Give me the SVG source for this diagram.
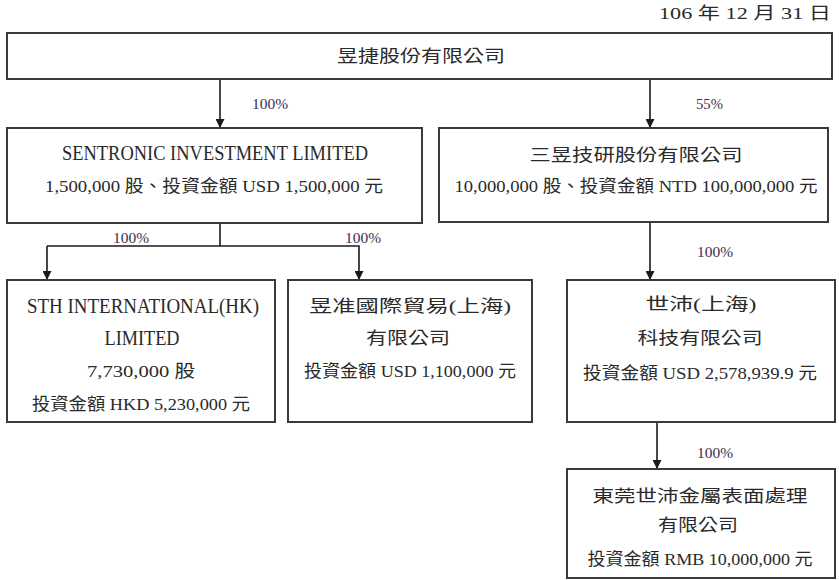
<svg xmlns="http://www.w3.org/2000/svg" width="839" height="580" viewBox="0 0 839 580">
<defs>
<style>
.box{fill:#fff;stroke:#3a3a3a;stroke-width:2}
.t{font-family:'Liberation Serif','Noto Sans CJK TC',serif;fill:#2a2a2a;text-anchor:middle;dominant-baseline:central}
.c{font-size:17px}
.e{font-size:20px}
.p{font-family:'Liberation Serif',serif;font-size:15px;fill:#3a3050;dominant-baseline:central}
.ln{fill:none;stroke:#1a1a1a;stroke-width:1.6}
</style>
<marker id="ah" viewBox="0 0 10 10" refX="10" refY="5" markerWidth="12" markerHeight="9" markerUnits="userSpaceOnUse" orient="auto">
<path d="M0,0 L10,5 L0,10 z" fill="#1a1a1a"/>
</marker>
</defs>
<rect width="839" height="580" fill="#fff"/>
<text class="t c" x="745" y="13" textLength="172" lengthAdjust="spacingAndGlyphs">106 年 12 月 31 日</text>

<g id="connectors">
<line class="ln" x1="220" y1="79" x2="220" y2="128" marker-end="url(#ah)"/>
<line class="ln" x1="650" y1="79" x2="650" y2="128" marker-end="url(#ah)"/>
<line class="ln" x1="220" y1="223" x2="220" y2="246"/>
<polyline class="ln" points="47,246 359,246 359,280" marker-end="url(#ah)"/>
<line class="ln" x1="47" y1="246" x2="47" y2="280" marker-end="url(#ah)"/>
<line class="ln" x1="650" y1="222" x2="650" y2="280" marker-end="url(#ah)"/>
<line class="ln" x1="657" y1="422" x2="657" y2="469" marker-end="url(#ah)"/>
<text class="p" x="252" y="104" textLength="36" lengthAdjust="spacingAndGlyphs">100%</text>
<text class="p" x="696" y="104" textLength="27" lengthAdjust="spacingAndGlyphs">55%</text>
<text class="p" x="113" y="238" textLength="36" lengthAdjust="spacingAndGlyphs">100%</text>
<text class="p" x="345" y="238" textLength="36" lengthAdjust="spacingAndGlyphs">100%</text>
<text class="p" x="697" y="252" textLength="36" lengthAdjust="spacingAndGlyphs">100%</text>
<text class="p" x="697" y="453" textLength="36" lengthAdjust="spacingAndGlyphs">100%</text>
</g>

<g id="n-top">
<rect class="box" x="7" y="33" width="825" height="46"/>
<text class="t c" x="421" y="56" textLength="168" lengthAdjust="spacingAndGlyphs">昱捷股份有限公司</text>
</g>

<g id="n-sentronic">
<rect class="box" x="7" y="128" width="415" height="95"/>
<text class="t e" x="215" y="153" textLength="306" lengthAdjust="spacingAndGlyphs">SENTRONIC INVESTMENT LIMITED</text>
<text class="t c" x="214" y="186" textLength="338" lengthAdjust="spacingAndGlyphs">1,500,000 股、投資金額 USD 1,500,000 元</text>
</g>

<g id="n-sanyu">
<rect class="box" x="439" y="128" width="389" height="94"/>
<text class="t c" x="636" y="155" textLength="213" lengthAdjust="spacingAndGlyphs">三昱技研股份有限公司</text>
<text class="t c" x="636" y="186" textLength="363" lengthAdjust="spacingAndGlyphs">10,000,000 股、投資金額 NTD 100,000,000 元</text>
</g>

<g id="n-sth">
<rect class="box" x="7" y="280" width="268" height="142"/>
<text class="t e" x="143" y="306" textLength="232" lengthAdjust="spacingAndGlyphs">STH INTERNATIONAL(HK)</text>
<text class="t e" x="142" y="338" textLength="75" lengthAdjust="spacingAndGlyphs">LIMITED</text>
<text class="t c" x="141" y="371" textLength="108" lengthAdjust="spacingAndGlyphs">7,730,000 股</text>
<text class="t c" x="141" y="404" textLength="218" lengthAdjust="spacingAndGlyphs">投資金額 HKD 5,230,000 元</text>
</g>

<g id="n-yuzhun">
<rect class="box" x="288" y="280" width="244" height="142"/>
<text class="t c" x="410" y="306" textLength="202" lengthAdjust="spacingAndGlyphs">昱准國際貿易(上海)</text>
<text class="t c" x="408" y="338" textLength="84" lengthAdjust="spacingAndGlyphs">有限公司</text>
<text class="t c" x="410" y="371" textLength="212" lengthAdjust="spacingAndGlyphs">投資金額 USD 1,100,000 元</text>
</g>

<g id="n-shipei">
<rect class="box" x="567" y="280" width="268" height="142"/>
<text class="t c" x="701" y="304" textLength="111" lengthAdjust="spacingAndGlyphs">世沛(上海)</text>
<text class="t c" x="700" y="338" textLength="125" lengthAdjust="spacingAndGlyphs">科技有限公司</text>
<text class="t c" x="700" y="373" textLength="234" lengthAdjust="spacingAndGlyphs">投資金額 USD 2,578,939.9 元</text>
</g>

<g id="n-dongguan">
<rect class="box" x="567" y="469" width="268" height="109"/>
<text class="t c" x="700" y="496" textLength="215" lengthAdjust="spacingAndGlyphs">東莞世沛金屬表面處理</text>
<text class="t c" x="698" y="525" textLength="80" lengthAdjust="spacingAndGlyphs">有限公司</text>
<text class="t c" x="700" y="559" textLength="225" lengthAdjust="spacingAndGlyphs">投資金額 RMB 10,000,000 元</text>
</g>
</svg>
